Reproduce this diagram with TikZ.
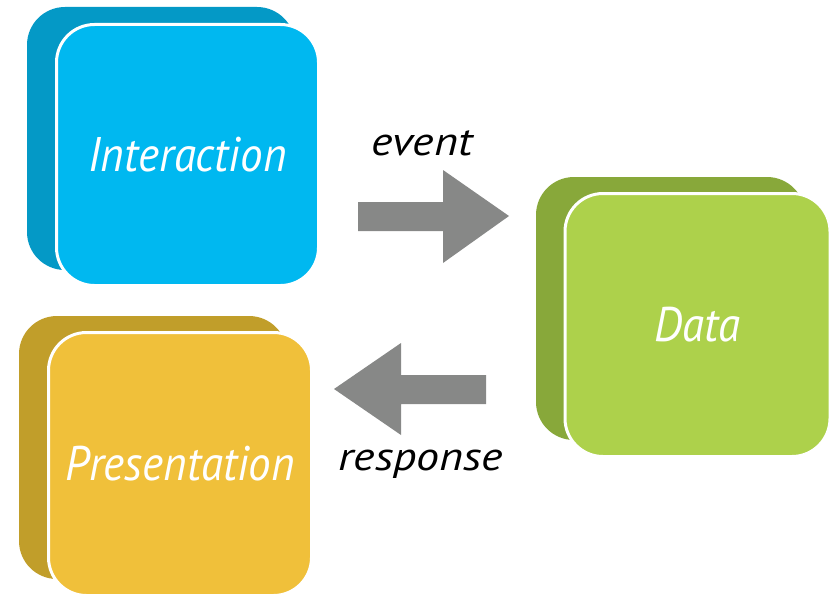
\documentclass[tikz,border=0pt]{standalone}
\usepackage{fontspec}
\setmainfont{PT Sans}
\definecolor{intfront}{HTML}{00B8F0}
\definecolor{intback}{HTML}{0499C6}
\definecolor{prefront}{HTML}{F0C03A}
\definecolor{preback}{HTML}{C19E2A}
\definecolor{datfront}{HTML}{ADD14B}
\definecolor{datback}{HTML}{88A83A}
\definecolor{arrgray}{HTML}{878887}
\newcommand{\tallbox}[1]{\scalebox{1}[1.08]{#1}}
\newcommand{\widelbl}[1]{\scalebox{1.15}[1]{#1}}
\tikzset{
  backbox/.style={rectangle, rounded corners=38pt, inner sep=0pt},
  frontbox/.style={rectangle, rounded corners=38pt, inner sep=0pt, draw=white, line width=3pt,
    text=white, font=\fontsize{45}{50}\selectfont\itshape},
  lbl/.style={anchor=base, text=black, font=\fontsize{40}{46}\selectfont\itshape},
  blockarrow/.style={fill=arrgray}
}
\begin{document}
\begin{tikzpicture}[x=1pt,y=-1pt]
\useasboundingbox (0,0) rectangle (837,594);
% Interaction
\node[backbox, fill=intback, minimum width=268pt, minimum height=263pt] (intb) at (161,138.5) {};
\node[frontbox, fill=intfront, minimum width=262pt, minimum height=261pt] (inter) at (187.5,155) {\tallbox{Interaction}};
% Presentation
\node[backbox, fill=preback, minimum width=268pt, minimum height=263pt] (preb) at (153,447.5) {};
\node[frontbox, fill=prefront, minimum width=263pt, minimum height=263pt] (pres) at (180,464) {\tallbox{Presentation}};
% Data
\node[backbox, fill=datback, minimum width=269pt, minimum height=263pt] (datb) at (670.5,308.5) {};
\node[frontbox, fill=datfront, minimum width=265pt, minimum height=263pt] (data) at (697.5,325) {\tallbox{Data}};
% arrows
\fill[blockarrow] (358,202) -- (443,202) -- (443,170) -- (509,216) -- (443,263) -- (443,231) -- (358,231) -- cycle;
\fill[blockarrow] (486,375) -- (401,375) -- (401,343) -- (334,389) -- (401,435) -- (401,404) -- (486,404) -- cycle;
% labels
\node[lbl] (ev) at (422,155) {\widelbl{event}};
\node[lbl] (resp) at (421,470) {\widelbl{response}};
\end{tikzpicture}
\end{document}
